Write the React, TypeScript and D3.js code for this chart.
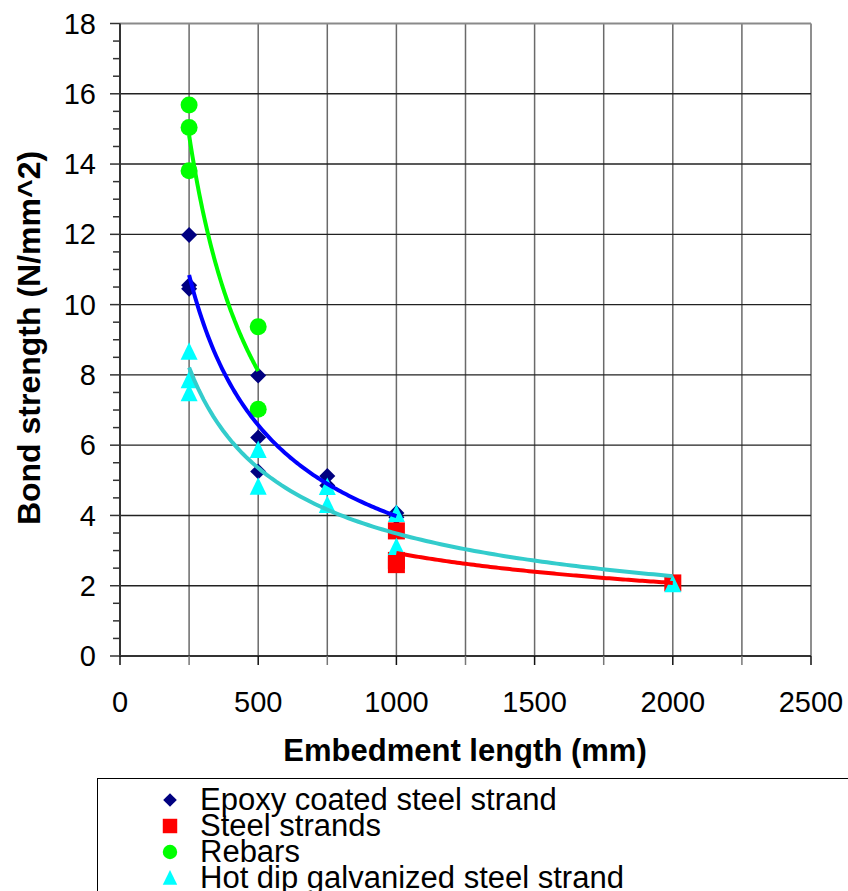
import React from 'react';
import * as d3 from 'd3';

const xTicks = [0, 500, 1000, 1500, 2000, 2500];
const yTicks = [0, 2, 4, 6, 8, 10, 12, 14, 16, 18];

const epoxyX = [250, 250, 250, 500, 500, 500, 750, 750, 1000, 1000];
const epoxyY = [11.98, 10.55, 10.45, 7.98, 6.22, 5.25, 5.12, 4.85, 4.07, 3.95];
const steelX = [1000, 1000, 1000, 2000];
const steelY = [3.56, 2.72, 2.6, 2.08];
const rebarX = [250, 250, 250, 500, 500];
const rebarY = [15.68, 15.04, 13.81, 9.37, 7.02];
const hotX = [250, 250, 250, 500, 500, 750, 750, 1000, 1000, 2000];
const hotY = [8.66, 7.85, 7.48, 5.86, 4.82, 4.81, 4.3, 4.04, 3.1, 2.04];

const seriesNames = [
  'Epoxy coated steel strand',
  'Steel strands',
  'Rebars',
  'Hot dip galvanized steel strand',
];

const W = 848;
const H = 891;
const x = d3.scaleLinear().domain([0, 2500]).range([120, 811]);
const y = d3.scaleLinear().domain([0, 18]).range([656, 23.5]);

function powerFit(xs: number[], ys: number[]) {
  const lx = xs.map(Math.log);
  const ly = ys.map(Math.log);
  const mx = d3.mean(lx)!;
  const my = d3.mean(ly)!;
  let sxx = 0, sxy = 0;
  for (let i = 0; i < lx.length; i++) {
    sxx += (lx[i] - mx) ** 2;
    sxy += (lx[i] - mx) * (ly[i] - my);
  }
  const b = sxy / sxx;
  const a = Math.exp(my - b * mx);
  return (v: number) => a * Math.pow(v, b);
}

function trendPath(xs: number[], ys: number[]) {
  const f = powerFit(xs, ys);
  const [lo, hi] = d3.extent(xs) as [number, number];
  const pts = d3.range(0, 101).map((i) => lo + ((hi - lo) * i) / 100);
  return d3.line<number>().x((v) => x(v)).y((v) => y(f(v)))(pts) || '';
}

type Shape = 'diamond' | 'square' | 'circle' | 'triangle';

function Marker({ cx, cy, shape, fill, s = 1 }: { cx: number; cy: number; shape: Shape; fill: string; s?: number }) {
  if (shape === 'diamond') {
    const r = 8 * s;
    return <path d={`M${cx},${cy - r}L${cx + r},${cy}L${cx},${cy + r}L${cx - r},${cy}Z`} fill={fill} />;
  }
  if (shape === 'square') {
    const r = 8.5 * s;
    return <rect x={cx - r} y={cy - r} width={2 * r} height={2 * r} fill={fill} />;
  }
  if (shape === 'circle') {
    return <circle cx={cx} cy={cy} r={8.5 * s} fill={fill} />;
  }
  const r = 8.5 * s;
  return <path d={`M${cx},${cy - 9.5 * s}L${cx + r},${cy + 8 * s}L${cx - r},${cy + 8 * s}Z`} fill={fill} />;
}

const series: { xs: number[]; ys: number[]; shape: Shape; fill: string; line: string }[] = [
  { xs: epoxyX, ys: epoxyY, shape: 'diamond', fill: '#000080', line: '#0000FF' },
  { xs: steelX, ys: steelY, shape: 'square', fill: '#FF0000', line: '#FF0000' },
  { xs: rebarX, ys: rebarY, shape: 'circle', fill: '#00FF00', line: '#00FF00' },
  { xs: hotX, ys: hotY, shape: 'triangle', fill: '#00FFFF', line: '#33CCCC' },
];

export default function App() {
  const minorY = d3.range(0, 18.01, 0.5);
  const gridX = d3.range(250, 2501, 250);
  const tickX = d3.range(0, 2501, 250);
  const font = 'Liberation Sans, Arial, sans-serif';
  return (
    <svg width={W} height={H} style={{ position: 'absolute', left: 0, top: 0, background: '#fff' }}>
      <rect x={0} y={0} width={W} height={H} fill="#fff" />
      {/* gridlines */}
      {gridX.map((v) => (
        <line key={'gx' + v} x1={x(v)} x2={x(v)} y1={y(0)} y2={y(18)} stroke="#6a6a6a" strokeWidth={1.5} />
      ))}
      {yTicks.slice(1).map((v) => (
        <line key={'gy' + v} x1={x(0)} x2={x(2500)} y1={y(v)} y2={y(v)} stroke={v === 18 ? '#8a8a8a' : '#222'} strokeWidth={v === 18 ? 2 : 1.4} />
      ))}
      {/* axes */}
      <line x1={x(0)} x2={x(0)} y1={y(0)} y2={y(18)} stroke="#333" strokeWidth={2} />
      <line x1={x(0)} x2={x(2500)} y1={y(0)} y2={y(0)} stroke="#333" strokeWidth={2} />
      {minorY.map((v) => (
        <line key={'ty' + v} x1={v % 2 === 0 ? 110 : 113} x2={x(0)} y1={y(v)} y2={y(v)} stroke="#333" strokeWidth={1.5} />
      ))}
      {tickX.map((v) => (
        <line key={'tx' + v} x1={x(v)} x2={x(v)} y1={y(0)} y2={y(0) + 9} stroke={v % 500 === 0 ? '#111' : '#777'} strokeWidth={1.5} />
      ))}
      {yTicks.map((v) => (
        <text key={'ly' + v} x={96} y={y(v)} dy="0.35em" textAnchor="end" fontFamily={font} fontSize={29} fill="#000">
          {v}
        </text>
      ))}
      {xTicks.map((v) => (
        <text key={'lx' + v} x={x(v)} y={712} textAnchor="middle" fontFamily={font} fontSize={29} fill="#000">
          {v}
        </text>
      ))}
      <text x={465} y={761} textAnchor="middle" fontFamily={font} fontSize={31} fontWeight="bold" fill="#000">
        Embedment length (mm)
      </text>
      <text transform="translate(40,338) rotate(-90)" textAnchor="middle" fontFamily={font} fontSize={32} fontWeight="bold" fill="#000">
        Bond strength (N/mm^2)
      </text>
      {/* markers */}
      {series.map((s, si) =>
        s.xs.map((xv, i) => <Marker key={si + '-' + i} cx={x(xv)} cy={y(s.ys[i])} shape={s.shape} fill={s.fill} />)
      )}
      {/* trendlines */}
      {series.map((s, si) => (
        <path key={'tr' + si} d={trendPath(s.xs, s.ys)} fill="none" stroke={s.line} strokeWidth={4} />
      ))}
      {/* legend */}
      <rect x={97.5} y={778.5} width={760} height={130} fill="#fff" stroke="#000" strokeWidth={1} />
      {series.map((s, i) => (
        <g key={'lg' + i}>
          <Marker cx={170} cy={800 + i * 26} shape={s.shape} fill={s.fill} s={0.85} />
          <text x={200} y={810 + i * 26} fontFamily={font} fontSize={31} fill="#000">
            {seriesNames[i]}
          </text>
        </g>
      ))}
    </svg>
  );
}
